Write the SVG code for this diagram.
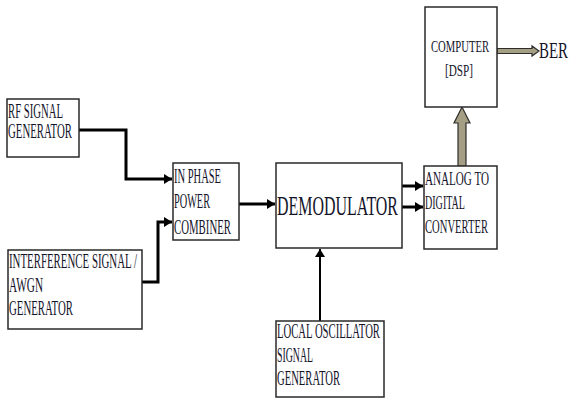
<svg xmlns="http://www.w3.org/2000/svg" width="572" height="399" viewBox="0 0 572 399">
<defs>
<style>
.box{fill:#fff;stroke:#2a2a2a;stroke-width:1.5}
.t{font-family:"Liberation Serif","Times New Roman",serif;font-size:20px;fill:#14142a}
.s{font-size:18px}
.c{fill:none;stroke:#000;stroke-width:3}
.c2{fill:none;stroke:#000;stroke-width:2}
.blk{fill:#a39e84;stroke:#2e2e2a;stroke-width:1.2}
</style>
<marker id="ah" markerUnits="userSpaceOnUse" markerWidth="9" markerHeight="10" refX="8" refY="5" orient="auto">
<path d="M0,0 L8,5 L0,10 z" fill="#000"/>
</marker>
</defs>
<rect width="572" height="399" fill="#fff"/>
<g id="connectors">
<path class="c" d="M79,130 H126 V179 H172" marker-end="url(#ah)"/>
<path class="c" d="M142,282 H158 V222 H172" marker-end="url(#ah)"/>
<path class="c" d="M239,204 H275" marker-end="url(#ah)"/>
<path class="c" d="M402,186 H423" marker-end="url(#ah)"/>
<path class="c" d="M402,207 H423" marker-end="url(#ah)"/>
<path class="c2" d="M320,321 V249" marker-end="url(#ah)"/>
<polygon class="blk" points="458,166 458,123 454,123 462,107 470,123 466,123 466,166"/>
<polygon class="blk" fill="#b5ad88" points="497,48.5 532,48.5 532,46 539,51 532,56 532,53.5 497,53.5"/>
</g>
<g id="rf">
<rect class="box" x="7" y="99" width="72" height="58"/>
<text class="t" x="8" y="118" textLength="55" lengthAdjust="spacingAndGlyphs">RF SIGNAL</text>
<text class="t" x="8" y="138" textLength="64" lengthAdjust="spacingAndGlyphs">GENERATOR</text>
</g>
<g id="interference">
<rect class="box" x="8" y="250" width="134" height="79"/>
<text class="t" x="9" y="268" textLength="128" lengthAdjust="spacingAndGlyphs">INTERFERENCE SIGNAL /</text>
<text class="t" x="9" y="292" textLength="34" lengthAdjust="spacingAndGlyphs">AWGN</text>
<text class="t" x="9" y="315" textLength="64" lengthAdjust="spacingAndGlyphs">GENERATOR</text>
</g>
<g id="inphase">
<rect class="box" x="173" y="163" width="66" height="77"/>
<text class="t" x="174" y="183" textLength="47" lengthAdjust="spacingAndGlyphs">IN PHASE</text>
<text class="t" x="174" y="208" textLength="36" lengthAdjust="spacingAndGlyphs">POWER</text>
<text class="t" x="174" y="234" textLength="57" lengthAdjust="spacingAndGlyphs">COMBINER</text>
</g>
<g id="demodulator">
<rect class="box" x="276" y="163" width="126" height="85"/>
<text class="t" x="277" y="215" style="font-size:27px" textLength="121" lengthAdjust="spacingAndGlyphs">DEMODULATOR</text>
</g>
<g id="adc">
<rect class="box" x="424" y="166" width="73" height="83"/>
<text class="t s" x="425" y="185" textLength="64" lengthAdjust="spacingAndGlyphs">ANALOG TO</text>
<text class="t s" x="425" y="209" textLength="40" lengthAdjust="spacingAndGlyphs">DIGITAL</text>
<text class="t s" x="425" y="233" textLength="63" lengthAdjust="spacingAndGlyphs">CONVERTER</text>
</g>
<g id="computer">
<rect class="box" x="425" y="7" width="72" height="100"/>
<text class="t" x="431" y="52" style="font-size:17px" textLength="58" lengthAdjust="spacingAndGlyphs">COMPUTER</text>
<text class="t" x="445" y="76" style="font-size:17px" textLength="28" lengthAdjust="spacingAndGlyphs">[DSP]</text>
</g>
<g id="ber">
<text class="t" x="539" y="58" style="font-size:23px" textLength="29" lengthAdjust="spacingAndGlyphs">BER</text>
</g>
<g id="lo">
<rect class="box" x="276" y="321" width="108" height="76"/>
<text class="t" x="277" y="338" textLength="103" lengthAdjust="spacingAndGlyphs">LOCAL OSCILLATOR</text>
<text class="t" x="277" y="362" textLength="36" lengthAdjust="spacingAndGlyphs">SIGNAL</text>
<text class="t" x="277" y="385" textLength="63" lengthAdjust="spacingAndGlyphs">GENERATOR</text>
</g>
</svg>
